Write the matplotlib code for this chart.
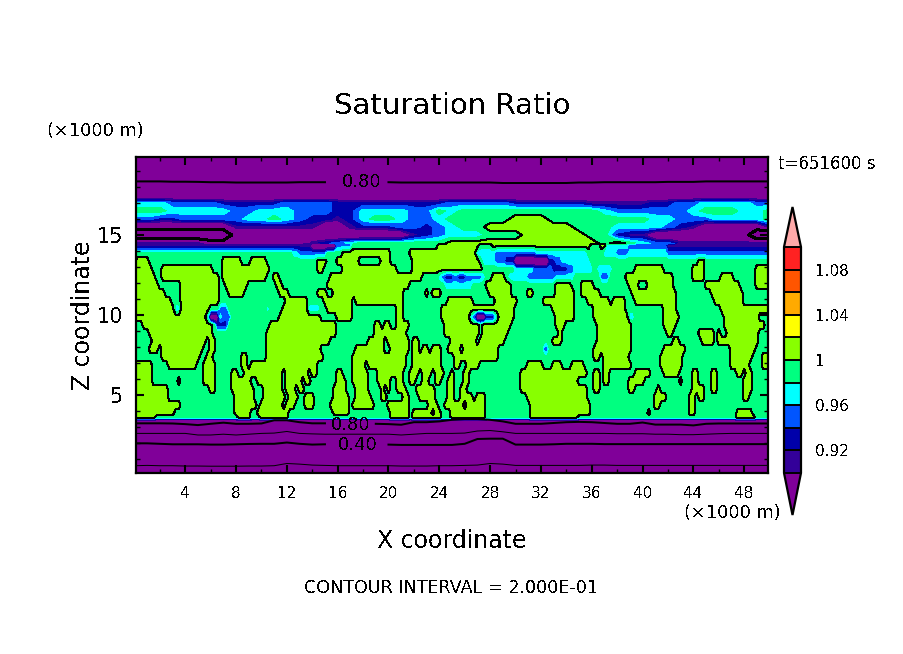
import numpy as np
import matplotlib
matplotlib.use('Agg')
import matplotlib.pyplot as plt
from matplotlib.cm import ScalarMappable
from matplotlib.colors import BoundaryNorm, ListedColormap

plt.rcParams['font.family'] = ['DejaVu Sans']
plt.rcParams['text.antialiased'] = False

W, H = 904, 654

# saturation ratio classes
codes = {'D': 0.70, 'E': 0.85, 'f': 0.91, 'g': 0.93, 'h': 0.95, 'i': 0.97, 'j': 0.99, 'k': 1.01}
levels = [0.90, 0.92, 0.94, 0.96, 0.98, 1.00, 1.02, 1.04, 1.06, 1.08, 1.10]
colors = ['#800099', '#330099', '#0000aa', '#0055ff', '#00ffff', '#00ff80',
          '#88ff00', '#ffff00', '#ffaa00', '#ff5500', '#ff2222', '#ffaaaa']

# upper dry band: one string per height, one letter per km
band_x = list(range(51))
band_z = [19.875, 17.5, 17, 16.5, 16, 15.5, 15, 14.5]
band_rows = [
    'E' * 51,
    'E' * 51,
    'iiihhhhggggghhhhggggggggg' + 'hhhhhggggggfffffgghhiiiihh',
    'jjjiiiiihhiiihhhggiiiihhj' + 'ijjjjjjjjjjjihhhhhhijjjiij',
    'hhgghhhhhiijihggfgijjihhi' + 'jjjjjkkkjjjjjjjjiihhhiiiij',
    'EEEEEEEEfffffffEEfggghhgh' + 'ijjkkkkkkkjjjiiiihgfEEEEEf',
    'DDDDDDDDEEEEEEEEEEEEEEfgh' + 'iiijjjkkkkkjjgffEEEEEEEEDD',
    'ffffffEEEEEEEEfghijjjjjjj' + 'kkkkkkkkkkkkjkjihhffffffff',
]

# cloud layer: x ranges (km) where the ratio is above 1, one list per height
field_z = [14.375, 13.875, 13.375, 12.875, 12.375, 11.875, 11.375, 10.875, 10.375, 9.875, 9.375,
           8.875, 8.375, 7.875, 7.375, 6.875, 6.375, 5.875, 5.375, 4.875, 4.375, 3.875, 3.6]
lime_runs = [
    [(24.0, 27.05), (28.2, 35.8), (36.6, 38.85)],
    [(16.4, 20.1), (21.7, 26.8)],
    [(0.1, 1.0), (7.0, 8.3), (9.1, 10.4), (14.3, 15.0), (15.9, 17.7), (19.4, 20.1), (21.8, 27.0), (44.5, 44.9)],
    [(0, 1.45), (2.2, 6.05), (7.0, 10.5), (14.5, 14.85), (16.3, 20.6), (21.8, 27.45), (39.5, 41.6), (44.0, 44.9), (49, 50)],
    [(0, 1.7), (2.2, 6.6), (7, 10.25), (10.9, 11.4), (15.5, 22.6), (28.2, 29.15), (38.6, 42.25), (44, 44.75),
     (46.1, 47.1), (48.8, 50)],
    [(0, 1.85), (3.55, 6.6), (7.1, 8.95), (11.15, 11.55), (15.1, 21.5), (27.7, 29.55), (33.2, 34.4), (35.05, 36.2),
     (38.85, 39.5), (40.4, 42.4), (44.9, 47.5), (48.9, 50)],
    [(0, 2.4), (3.7, 6.6), (7.35, 8.7), (11.4, 12.1), (14.45, 15.2), (15.75, 17.3), (17.5, 21.15), (22.85, 23.1),
     (23.45, 24.1), (28, 29.7), (30.85, 31.4), (33.2, 34.5), (35.2, 36.5), (39.1, 42.5), (45.4, 47.8)],
    [(0, 2.8), (3.7, 6.6), (11.8, 13.5), (14.85, 17.2), (17.5, 21), (24.6, 26.65), (28.5, 30.2), (32.15, 34.65),
     (35.7, 37.3), (37.7, 38.6), (39.4, 42.5), (45.65, 47.9)],
    [(0, 5.8), (11.55, 14.05), (15.1, 17.07), (20.6, 21.1), (24.15, 29.9), (33, 34.65), (36.1, 38.7),
     (41.7, 42.65), (46.2, 50)],
    [(0, 5.5), (11.3, 14.7), (15.9, 17.07), (20.75, 21.15), (24.15, 26.65), (27.2, 29.8), (33.2, 34.5), (36.2, 39),
     (41.75, 42.8), (46.3, 49.2)],
    [(0.65, 6.05), (10.65, 15.9), (18.9, 19.45), (19.7, 20), (20.6, 21.5), (24.3, 27.2), (27.45, 29.55),
     (33.2, 33.75), (36.35, 39.1), (41.75, 42.65), (46.45, 49), (49.1, 49.5)],
    [(1.2, 6.2), (10.5, 15.9), (19, 21.35), (24.4, 27.2), (27.45, 29.3), (33.4, 33.6), (36.35, 39.1), (41.9, 42.4),
     (44.5, 45.55), (46, 46.2), (46.6, 49)],
    [(1.3, 5.6), (5.9, 6.4), (10.5, 15.4), (18.4, 19.55), (20, 21.5), (21.95, 22.3), (24.8, 26.9), (27.2, 29),
     (32.95, 33.5), (36.35, 39), (42.3, 42.8), (44.6, 45.55), (46, 46.5), (46.7, 49.2)],
    [(1.25, 1.8), (2.2, 5.4), (5.8, 6.4), (10.5, 14.7), (17.5, 19.55), (20.1, 21.5), (21.95, 22.25), (22.6, 23),
     (23.5, 24.15), (24.55, 25.7), (26, 28.6), (36.2, 36.75), (37, 39), (41.6, 43.05), (43.1, 43.3), (46.85, 48.85)],
    [(2.2, 5.1), (5.65, 6), (8.5, 8.9), (10.5, 14.95), (17.2, 21.4), (22, 24.15), (25.1, 25.9), (26, 28.6),
     (36.2, 36.6), (36.9, 38.85), (41.5, 43.05), (46.85, 48.7), (49.5, 50)],
    [(0, 1.45), (2.75, 4.75), (5.5, 6.3), (8.4, 8.95), (9.2, 14.45), (17.05, 18.1), (18.4, 21.25), (21.8, 23.1),
     (23.25, 24), (25.2, 25.7), (26.1, 27.05), (30.85, 32.15), (32.8, 33.6), (34.4, 34.9), (35, 35.45), (36.9, 39),
     (41.5, 43), (47, 48.4), (49.5, 50)],
    [(0, 1.45), (5.4, 6.3), (7.6, 8), (8.65, 11.7), (11.95, 13.5), (13.9, 14.45), (15.9, 16.3), (17.05, 18.25),
     (19.2, 21), (21.55, 22.3), (22.6, 23.4), (23.65, 24.3), (24.8, 25.2), (26, 26.25), (30.45, 34), (34.25, 35.55),
     (36.2, 36.6), (37, 37.4), (39.5, 40.55), (41.6, 42.8), (44, 44.35), (45.4, 45.8), (47.4, 47.9), (48.2, 48.7)],
    [(0, 1.45), (3.3, 3.55), (5.5, 6.3), (7.6, 9.05), (9.75, 11.7), (11.95, 13), (13.4, 13.9), (15.9, 16.7),
     (17.2, 18.25), (19.2, 20.2), (20.6, 21), (21.7, 22.05), (22.6, 23.1), (23.75, 24.15), (24.55, 25.2), (26, 26.25),
     (30.35, 34.8), (36.1, 36.6), (37, 37.4), (38.85, 39.4), (39.5, 40.15), (42.9, 43.2), (43.85, 44.35), (45.4, 45.8),
     (48, 48.55)],
    [(0, 2.5), (6, 6.3), (7.75, 9.3), (10.25, 11.7), (11.8, 12.5), (13, 13.4), (15.75, 16.7), (17.35, 18.4),
     (19.3, 19.7), (20, 20.2), (20.6, 21.25), (22.05, 22.85), (23, 23.65), (24.55, 25.05), (25.75, 26.1),
     (30.45, 35.55), (36.1, 36.5), (38.85, 39.35), (41.05, 41.35), (43.95, 44.75), (45.4, 45.8), (48, 48.55)],
    [(0, 2.65), (7.9, 9.45), (10.25, 11.8), (12.1, 12.75), (13.5, 14.2), (15.6, 16.95), (17.5, 18.5), (19.3, 19.8),
     (21.15, 21.7), (22.3, 22.85), (23, 23.65), (24.55, 25.2), (25.75, 26.5), (27, 27.6), (31, 35.7), (40.8, 41.75),
     (43.55, 44.1), (44.4, 44.9), (48, 48.4)],
    [(0, 2.9), (3, 3.55), (7.9, 9.6), (9.85, 11.7), (11.8, 12.6), (13.5, 14), (15.5, 16.95), (17.05, 18.9),
     (19.95, 21.5), (23.25, 23.9), (24.45, 25.75), (26.25, 27.6), (31.25, 35.85), (40.95, 41.35), (43.55, 44.1)],
    [(0, 3.15), (8, 9.2), (9.75, 12.1), (15.6, 16.95), (20.1, 21.55), (22, 23.3), (23.6, 24.2), (25, 27.6),
     (31.1, 35.95), (40.4, 40.7), (43.55, 44.1), (47.4, 48.7)],
    [(0.1, 1.7), (8.2, 9.2), (10, 12), (20.1, 21.5), (22, 24), (25, 27.6), (31.1, 34.8), (47.4, 48.9)],
]
# dry patches inside the cloud layer: height, x from, x to, class
dry_spots = [
    (14.375, 37.1, 40.8, 'i'), (14.375, 0, 12, 'f'), (14.375, 12, 14, 'f'), (14.375, 14, 16, 'E'),
    (14.375, 16, 17, 'h'), (14.375, 39, 42, 'h'), (14.375, 42, 50, 'f'),
    (13.875, 12.5, 14.5, 'i'), (13.875, 13, 15, 'h'), (13.875, 27, 35.5, 'i'), (13.875, 28.5, 31.5, 'h'),
    (13.875, 36.9, 37.9, 'i'), (13.875, 37.9, 38.85, 'h'), (13.875, 38.85, 42, 'i'), (13.875, 42, 50, 'h'),
    (13.375, 27.5, 35.9, 'i'), (13.375, 28.5, 33.7, 'h'), (13.375, 29.2, 33.2, 'g'), (13.375, 29.85, 32.7, 'E'),
    (12.875, 30, 36, 'i'), (12.875, 31.5, 34.5, 'h'), (12.875, 33, 34, 'g'), (12.875, 36.4, 37.7, 'i'),
    (12.375, 23.8, 27.5, 'i'), (12.375, 24.2, 27.3, 'h'), (12.375, 24.5, 25, 'g'), (12.375, 25.5, 26, 'g'),
    (12.375, 29.5, 34.5, 'i'), (12.375, 30.8, 33, 'h'), (12.375, 36.6, 37.4, 'h'),
    (11.875, 24.5, 26.5, 'i'),
    (10.375, 3.1, 3.6, 'i'), (10.375, 13.7, 14.5, 'i'), (10.375, 10.3, 10.6, 'i'), (10.375, 6.75, 7.25, 'h'),
    (9.875, 5.6, 6.9, 'i'), (9.875, 5.9, 6.6, 'E'), (9.875, 6.9, 7.6, 'h'), (9.375, 6.3, 7.4, 'g'),
    (9.875, 26.3, 28.6, 'i'), (9.875, 26.7, 28.4, 'g'), (9.875, 27, 27.7, 'E'), (9.875, 39, 39.4, 'i'),
    (7.875, 32.2, 32.7, 'h'),
]

nan = float('nan')
# contour lines in the stable layers, height in km at each band_x
line_080_top = [18.35, 18.35, 18.35, 18.33, 18.33, 18.32, 18.3, 18.3, 18.28, 18.28, 18.28, 18.28, 18.28,
                18.3, 18.3, 18.3, nan, nan, nan, nan, 18.3, 18.28, 18.28, 18.28, 18.28, 18.28, 18.28,
                18.28, 18.28, 18.25, 18.25, 18.25, 18.25, 18.25, 18.25, 18.28, 18.28, 18.3, 18.3, 18.3,
                18.3, 18.3, 18.32, 18.32, 18.32, 18.35, 18.35, 18.35, 18.35, 18.35, 18.35]
line_080_low = [3.23, 3.23, 3.23, 3.22, 3.18, 3.12, 3.2, 3.27, 3.2, 3.2, 3.22, 3.42, 3.42, 3.3, 3.23, 3.23,
                nan, nan, nan, 3.2, 3.18, 3.14, 3.3, 3.3, 3.35, 3.45, 3.5, 3.5, 3.45, 3.35, 3.2, 3.2, 3.2,
                3.25, 3.3, 3.32, 3.3, 3.25, 3.2, 3.2, 3.28, 3.15, 3.15, 3.15, 3.1, 3.2, 3.22, 3.22, 3.22,
                3.22, 3.22]
line_060 = [2.6, 2.6, 2.6, 2.6, 2.6, 2.5, 2.5, 2.55, 2.5, 2.55, 2.6, 2.62, 2.72, 2.6, 2.57, 2.55, 2.55, 2.55,
            2.55, 2.55, 2.55, 2.5, 2.55, 2.6, 2.6, 2.6, 2.62, 2.75, 2.78, 2.7, 2.6, 2.6, 2.6, 2.6, 2.6, 2.6,
            2.6, 2.6, 2.58, 2.58, 2.58, 2.55, 2.55, 2.52, 2.52, 2.55, 2.58, 2.6, 2.6, 2.6, 2.6]
line_040 = [1.98, 1.98, 1.95, 1.92, 1.92, 1.92, 1.9, 1.9, 1.92, 1.94, 1.95, 1.95, 2.03, 1.95, 1.9, 1.92,
            nan, nan, nan, nan, 1.9, 1.88, 1.88, 1.88, 1.88, 1.88, 1.95, 2.25, 2.27, 2.27, 1.9, 1.9, 1.9,
            1.92, 1.95, 1.95, 1.95, 1.93, 1.93, 1.93, 1.93, 1.93, 1.93, 1.93, 1.93, 1.93, 1.93, 1.93, 1.93,
            1.93, 1.93]
line_020 = [0.58, 0.6, 0.58, 0.58, 0.56, 0.56, 0.55, 0.55, 0.55, 0.56, 0.56, 0.58, 0.72, 0.68, 0.62, 0.6,
            0.58, 0.58, 0.58, 0.58, 0.58, 0.56, 0.56, 0.56, 0.58, 0.58, 0.6, 0.62, 0.72, 0.68, 0.6, 0.6, 0.6,
            0.6, 0.6, 0.6, 0.62, 0.62, 0.6, 0.6, 0.6, 0.6, 0.6, 0.6, 0.6, 0.6, 0.6, 0.6, 0.6, 0.6, 0.6]

band = np.array([[codes[c] for c in row] for row in band_rows])[::-1]
band_up = band_z[::-1]

# fill the cloud layer grid at a quarter km
fine_x = np.arange(0, 50.01, 0.25)
field = np.full((len(field_z), len(fine_x)), codes['j'])
for i, runs in enumerate(lime_runs):
    for a, b in runs:
        field[i, (fine_x >= a) & (fine_x <= b)] = codes['k']
for z, a, b, c in dry_spots:
    field[field_z.index(z), (fine_x >= a) & (fine_x <= b)] = codes[c]
top_row = [codes[band_rows[-1][int(round(x))]] for x in fine_x]
purple = [codes['E']] * len(fine_x)
field = np.vstack([purple, purple, field[::-1], top_row])
field_up = [0.125, 3.35] + field_z[::-1] + [14.5]

fig = plt.figure(figsize=(W / 100, H / 100), dpi=100)
ax = fig.add_axes([136 / W, 1 - 473 / H, 632 / W, 316 / H])
ax.set_facecolor(colors[0])  # tiny unfilled islands show purple

# closed outer levels, so small dry islands fill properly
fill_levels = [0.0] + levels + [2.0]
ax.contourf(band_x, band_up, band, levels=fill_levels, colors=colors, antialiased=False)
ax.contourf(fine_x, field_up, field, levels=fill_levels, colors=colors, antialiased=False)
ax.contour(band_x, band_up, band, levels=[0.8], colors='k', linewidths=1.44, antialiased=False)
ax.contour(band_x, band_up, band, levels=[1.0], colors='k', linewidths=0.72, antialiased=False)
ax.contour(fine_x, field_up, field, levels=[1.0], colors='k', linewidths=0.72, antialiased=False)

ax.plot(band_x, line_080_top, color='k', lw=1.44)
ax.plot(band_x, line_080_low, color='k', lw=1.44)
ax.plot(band_x, line_060, color='k', lw=0.72)
ax.plot(band_x, line_040, color='k', lw=1.44)
ax.plot(band_x, line_020, color='k', lw=0.72)

ax.text(17.9, 18.3, '0.80', fontsize=13, ha='center', va='center')
ax.text(17.0, 3.1, '0.80', fontsize=13, ha='center', va='center')
ax.text(17.6, 1.9, '0.40', fontsize=13, ha='center', va='center')

ax.set_xlim(0.125, 49.875)
ax.set_ylim(0.125, 19.875)
ax.set_xticks(range(4, 49, 4))
ax.set_xticks(range(2, 50, 2), minor=True)
ax.set_yticks([5, 10, 15])
ax.set_yticks(range(1, 20), minor=True)
ax.tick_params(which='major', direction='in', length=6, width=1.5, top=True, right=True, pad=9)
ax.tick_params(which='minor', direction='in', length=3, width=1, top=True, right=True)
ax.tick_params(axis='x', labelsize=11)
ax.tick_params(axis='y', labelsize=15, pad=9)
for s in ax.spines.values():
    s.set_linewidth(1.6)

# colour bar, the box takes in both tips
cmap = ListedColormap(colors[1:-1])
cmap.set_under(colors[0])
cmap.set_over(colors[-1])
sm = ScalarMappable(norm=BoundaryNorm(levels, cmap.N), cmap=cmap)
cax = fig.add_axes([784 / W, 1 - 515 / H, 17 / W, 308 / H])
cb = fig.colorbar(sm, cax=cax, extend='both', extendfrac=[0.186, 0.177], drawedges=True,
                  ticks=[0.92, 0.96, 1.0, 1.04, 1.08], spacing='uniform')
cb.ax.set_yticklabels(['0.92', '0.96', '1', '1.04', '1.08'], fontsize=11)
cb.ax.tick_params(length=0, pad=10)
cb.ax.minorticks_off()
cb.outline.set_linewidth(1.6)
cb.dividers.set_linewidth(1.4)
cb.dividers.set_color('k')

# labels, placed in figure pixels
def put(px, py, s, **kw):
    fig.text(px / W, 1 - py / H, s, va='center', **kw)

put(452, 106, 'Saturation Ratio', ha='center', fontsize=21)
put(47, 131, '(×1000 m)', ha='left', fontsize=12.8)
put(684, 513, '(×1000 m)', ha='left', fontsize=12.8)
put(778, 164, 't=651600 s', ha='left', fontsize=12)
put(452, 541, 'X coordinate', ha='center', fontsize=17)
put(83, 315, 'Z coordinate', ha='center', fontsize=17, rotation=90)
put(451, 588, 'CONTOUR INTERVAL = 2.000E-01', ha='center', fontsize=12.6)

fig.savefig('out.png', dpi=100)
